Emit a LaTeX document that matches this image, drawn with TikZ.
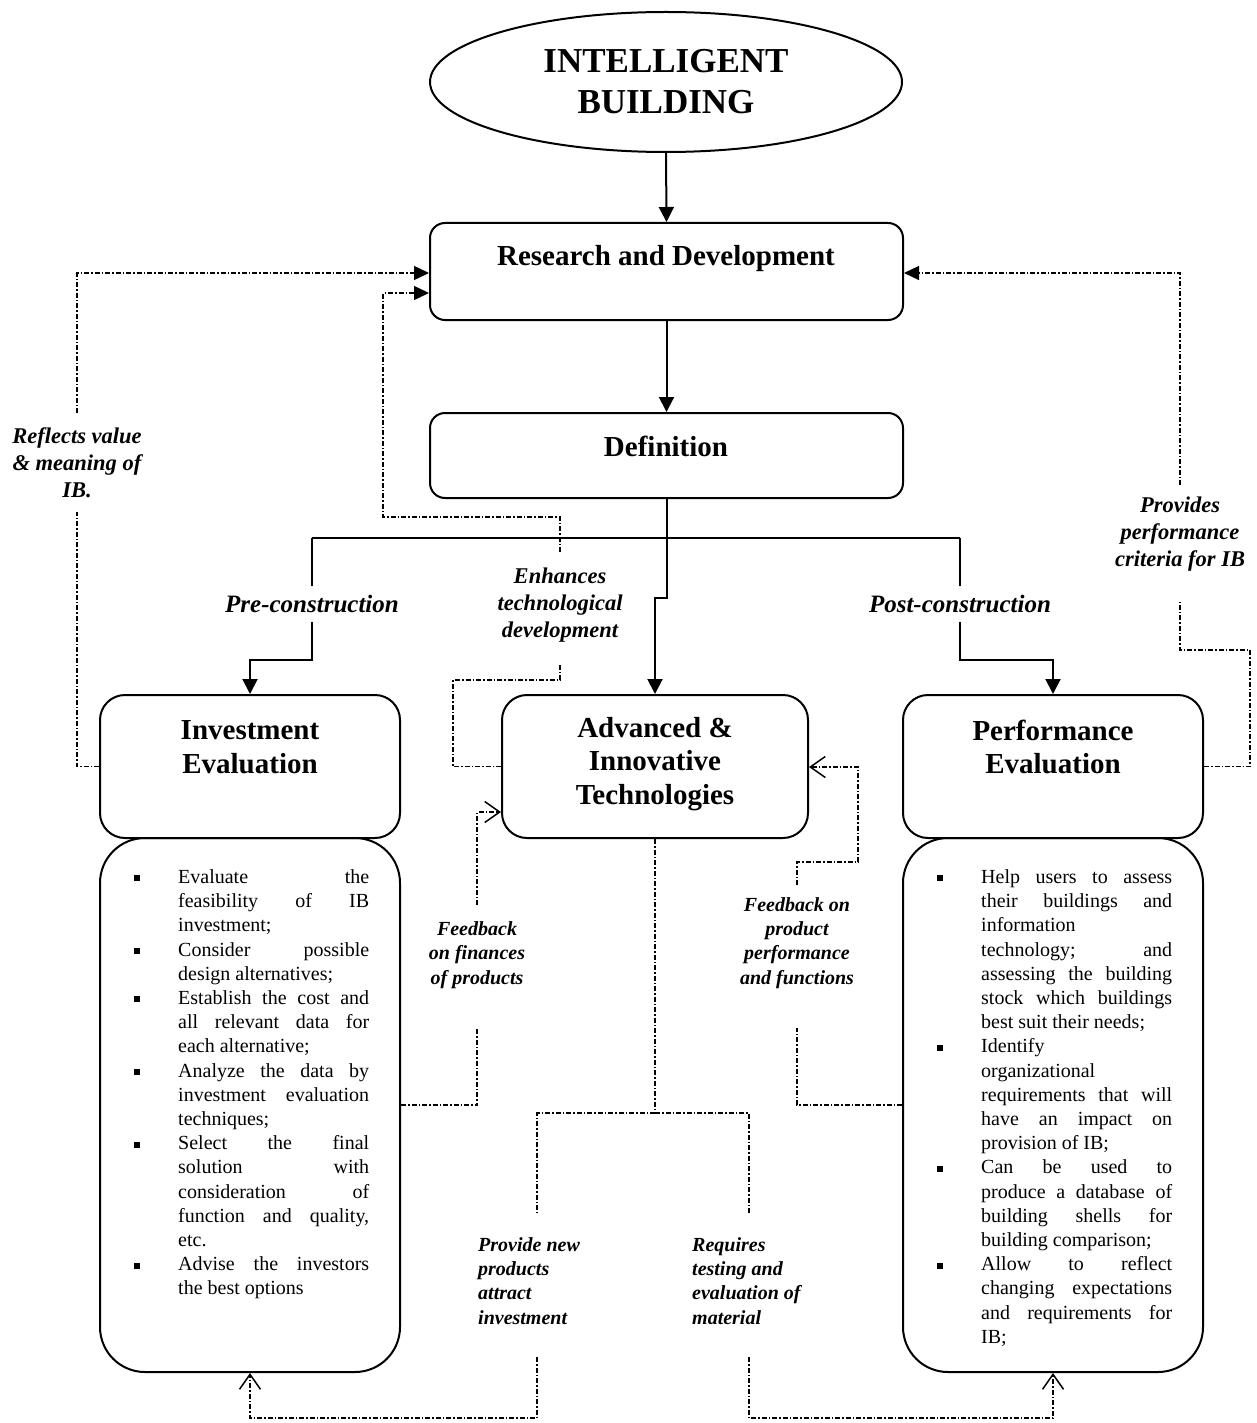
\documentclass[tikz,border=0pt]{standalone}
\usepackage{fontspec}
\setmainfont{Liberation Serif}
\usetikzlibrary{shapes.geometric,arrows.meta}
\newcommand{\bitem}[1]{\par\hangindent=44pt\hangafter=1\noindent\makebox[44pt][l]{\raisebox{2pt}{\rule{6pt}{6pt}}}#1\par}
\begin{document}
\begin{tikzpicture}[x=1pt,y=-1pt,
  box/.style={draw,line width=2pt,rounded corners=#1,inner sep=0pt},
  titlefont/.style={font=\fontsize{35}{41}\selectfont\bfseries,align=center},
  headfont/.style={font=\fontsize{29}{33.5}\selectfont\bfseries,align=center},
  biglab/.style={font=\fontsize{22.5}{27}\selectfont\bfseries\itshape,align=center,inner sep=0pt},
  smalllab/.style={font=\fontsize{20}{24.2}\selectfont\bfseries\itshape,align=center,inner sep=0pt},
  phaselab/.style={font=\fontsize{25}{30}\selectfont\bfseries\itshape,inner sep=0pt},
  listtext/.style={font=\fontsize{20}{24.2}\selectfont,text width=235pt,align=justify,inner sep=0pt,anchor=north west},
  conn/.style={line width=2pt,-{Triangle[length=15pt,width=15pt]}},
  plain/.style={line width=2pt},
  fb/.style={line width=1.4pt,dash pattern=on 5pt off 2pt on 1.5pt off 2pt},
  fbarr/.style={fb,-{Triangle[length=15pt,width=14pt]}},
  fbopen/.style={fb,-{Straight Barb[length=15pt,width=21pt,line width=1.5pt]}}
]
\useasboundingbox (0,0) rectangle (1257,1423);
\fill[white] (0,0) rectangle (1257,1423);

% main nodes
\node[draw,ellipse,line width=2pt,minimum width=472pt,minimum height=140pt,inner sep=0pt] (ib) at (666,82) {};
\node[titlefont] (ibt) at (666,82) {INTELLIGENT\\BUILDING};

\node[box=15pt,minimum width=473pt,minimum height=97pt] (rd) at (666.5,271.5) {};
\node[headfont] (rdt) at (666,259) {Research and Development};

\node[box=15pt,minimum width=473pt,minimum height=85pt] (def) at (666.5,455.5) {};
\node[headfont] (deft) at (666,446) {Definition};

\node[box=45pt,minimum width=300pt,minimum height=534pt] (invl) at (250,1105) {};
\node[box=25pt,minimum width=300pt,minimum height=143pt,fill=white] (inv) at (250,766.5) {};
\node[headfont] (invt) at (250,747) {Investment\\Evaluation};

\node[box=25pt,minimum width=306pt,minimum height=143pt] (adv) at (655,766.5) {};
\node[headfont] (advt) at (655,764) {Advanced \&\\Innovative\\Technologies};

\node[box=45pt,minimum width=300pt,minimum height=534pt] (perfl) at (1053,1105) {};
\node[box=25pt,minimum width=300pt,minimum height=143pt,fill=white] (perf) at (1053,766.5) {};
\node[headfont] (perft) at (1053,747) {Performance\\Evaluation};

% lists
\node[listtext] (invlist) at (134,859) {\tolerance=10000\hbadness=10000
\bitem{Evaluate the\linebreak feasibility of IB\linebreak investment;}
\bitem{Consider possible\linebreak design alternatives;}
\bitem{Establish the cost and\linebreak all relevant data for\linebreak each alternative;}
\bitem{Analyze the data by\linebreak investment evaluation\linebreak techniques;}
\bitem{Select the final\linebreak solution with\linebreak consideration of\linebreak function and quality,\linebreak etc.}
\bitem{Advise the investors\linebreak the best options}};

\node[listtext] (perflist) at (937,859) {\tolerance=10000\hbadness=10000
\bitem{Help users to assess\linebreak their buildings and\linebreak information\linebreak technology; and\linebreak assessing the building\linebreak stock which buildings\linebreak best suit their needs;}
\bitem{Identify\linebreak organizational\linebreak requirements that will\linebreak have an impact on\linebreak provision of IB;}
\bitem{Can be used to\linebreak produce a database of\linebreak building shells for\linebreak building comparison;}
\bitem{Allow to reflect\linebreak changing expectations\linebreak and requirements for\linebreak IB;}};

% labels
\node[phaselab] (pre) at (312,604) {Pre-construction};
\node[phaselab] (post) at (960,604) {Post-construction};
\node[biglab] (reflab) at (77,463) {Reflects value\\\& meaning of\\IB.};
\node[biglab] (enhlab) at (560,605) {Enhances\\technological\\development};
\node[biglab] (provlab) at (1180,534) {Provides\\performance\\criteria for IB};
\node[smalllab] (finlab) at (477,955) {Feedback\\on finances\\of products};
\node[smalllab] (pfblab) at (797,943) {Feedback on\\product\\performance\\and functions};
\node[smalllab,align=left,anchor=west] (newlab) at (478,1281) {Provide new\\products\\attract\\investment};
\node[smalllab,align=left,anchor=west] (reqlab) at (692,1281) {Requires\\testing and\\evaluation of\\material};

% solid connectors
\coordinate (hl) at (312,538);
\coordinate (hr) at (960,538);
\draw[conn] (ib.south) -- (rd.north);
\draw[conn] (rd.south) -- (def.north);
\draw[conn] (def.south) -- (def.south |- 0,598) -| (adv.north);
\draw[plain] (hl) -- (hr);
\draw[plain] (hl) -- (pre.north |- 0,586);
\draw[conn] (pre.south |- 0,622) -- (312,660) -| (inv.north);
\draw[plain] (hr) -- (post.north |- 0,586);
\draw[conn] (post.south |- 0,622) -- (960,660) -| (perf.north);

% feedback connectors
\draw[fb] (inv.west) -- (77,766.5) -- (reflab.south |- 0,512);
\draw[fbarr] (reflab.north |- 0,413) -- (77,273) -- (rd.west |- 0,273);

\draw[fb] (adv.west) -- (453,766.5) -- (453,680) -- (560,680) -- (enhlab.south |- 0,663);
\draw[fbarr] (enhlab.north |- 0,552) -- (560,517) -- (383,517) -- (383,293) -- (rd.west |- 0,293);

\draw[fb] (perf.east) -- (1250,766.5) -- (1250,650) -- (1180,650) -- (provlab.south |- 0,602);
\draw[fbarr] (provlab.north |- 0,485) -- (1180,273) -- (rd.east |- 0,273);

\draw[fb] (invl.east |- 0,1105) -- (477,1105) -- (finlab.south |- 0,1028);
\draw[fbopen] (finlab.north |- 0,905) -- (477,812) -- (adv.west |- 0,812);

\draw[fb] (perfl.west |- 0,1105) -- (797,1105) -- (pfblab.south |- 0,1028);
\draw[fbopen] (pfblab.north |- 0,885) -- (797,862) -- (858,862) -- (858,767) -- (adv.east |- 0,767);

\coordinate (split) at (655,1113);
\draw[fb] (adv.south) -- (split);
\draw[fb] (split) -- (537,1113) -- (537,1213);
\draw[fb] (split) -- (749,1113) -- (749,1213);
\draw[fbopen] (537,1357) -- (537,1418) -- (250,1418) -- (invl.south);
\draw[fbopen] (749,1357) -- (749,1418) -- (1053,1418) -- (perfl.south);
\end{tikzpicture}
\end{document}
